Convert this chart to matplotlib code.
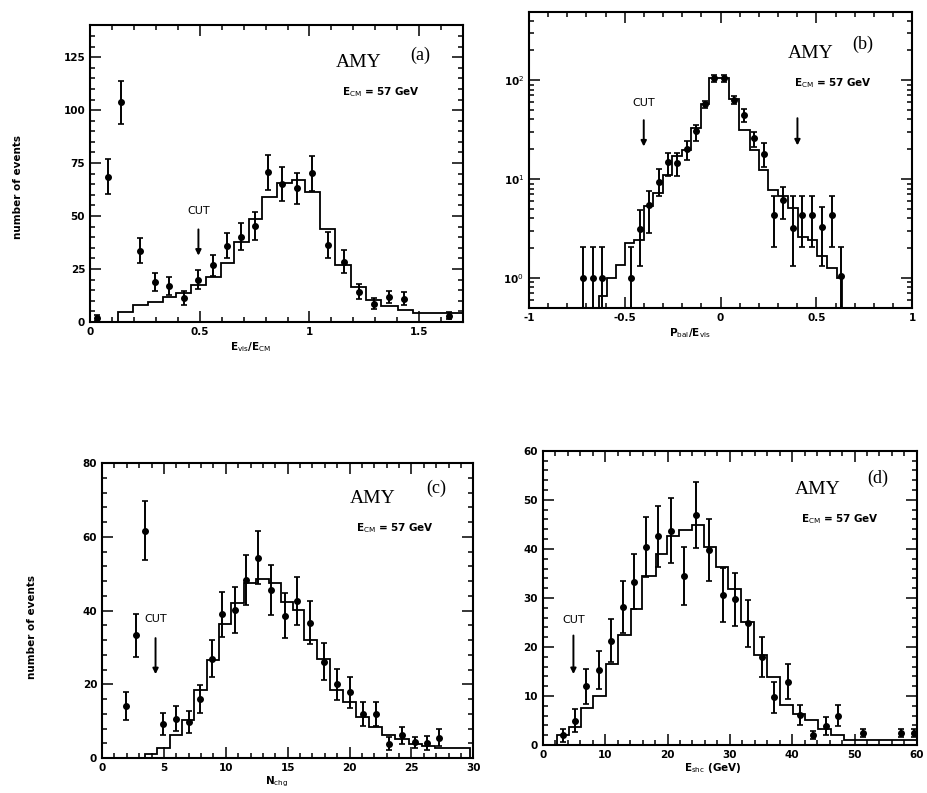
import matplotlib
matplotlib.use("Agg")
import matplotlib.pyplot as plt
from matplotlib.ticker import MultipleLocator, LogLocator, NullFormatter

# (a) E_vis / E_CM
a_x = [0.03, 0.08, 0.139, 0.226, 0.294, 0.362, 0.43, 0.494, 0.56, 0.626, 0.69, 0.754,
       0.811, 0.877, 0.945, 1.01, 1.085, 1.158, 1.226, 1.294, 1.364, 1.43, 1.636]
a_y = [2, 68.6, 103.6, 33.6, 18.9, 17, 11.3, 20, 26.8, 36, 40.2, 45.2,
       70.6, 65, 63, 70.1, 36.3, 28.4, 14.2, 8.7, 11.8, 11, 3]
a_err = [1.5, 8.2, 10.1, 5.9, 4.1, 4.4, 3.1, 4.5, 5, 5.9, 6.3, 6.5,
         8.4, 8.1, 7.5, 8.4, 6, 5.4, 3.5, 2.5, 3, 3, 1.5]
a_edges = [0.128, 0.196, 0.264, 0.332, 0.392, 0.46, 0.528, 0.596, 0.656, 0.724, 0.784,
           0.852, 0.92, 0.98, 1.048, 1.116, 1.19, 1.259, 1.327, 1.402, 1.47, 1.538, 1.7]
a_mc = [4.7, 8.2, 9.5, 11.8, 13.9, 17.3, 21.3, 28, 37.8, 48.5, 59, 65.5,
        67, 61.5, 44, 26.8, 16.5, 10.2, 7.4, 5.8, 4.2, 4]

# (b) P_bal / E_vis (log)
b_x = [-0.717, -0.664, -0.617, -0.466, -0.419, -0.371, -0.322, -0.273, -0.226, -0.177,
       -0.126, -0.081, -0.032, 0.019, 0.072, 0.121, 0.172, 0.224, 0.277, 0.326, 0.378,
       0.427, 0.478, 0.531, 0.58, 0.629]
b_y = [1, 1, 1, 1, 3.1, 5.4, 9.4, 14.7, 14.5, 20, 30.6, 57, 104, 104, 63, 44, 26, 18,
       4.35, 6.2, 3.2, 4.35, 4.35, 3.3, 4.35, 1.05]
b_lo = [0.001, 0.001, 0.001, 0.001, 1.31, 2.84, 6.66, 10.8, 10.8, 15.6, 24, 52, 96, 96,
        57, 38, 21, 13.3, 2.05, 3.9, 1.31, 2.05, 2.05, 1.31, 2.05, 0.001]
b_hi = [2.05, 2.05, 2.05, 2.05, 4.9, 7.5, 12.6, 18.5, 18.5, 24, 35, 62, 112, 112, 69, 51,
        30, 23, 6.7, 8.4, 6.7, 6.7, 6.7, 5.2, 6.7, 2.05]
b_edges = [-0.637, -0.594, -0.546, -0.497, -0.45, -0.401, -0.352, -0.3, -0.252, -0.2,
           -0.156, -0.103, -0.06, -0.007, 0.046, 0.098, 0.151, 0.198, 0.25, 0.3, 0.352,
           0.405, 0.457, 0.504, 0.553, 0.606, 0.632]
b_mc = [0.65, 1.0, 1.36, 2.25, 2.4, 5.3, 7.2, 11, 16.9, 19.7, 32.5, 58, 106, 106, 65, 31,
        19.7, 12.4, 7.8, 6.7, 5.1, 2.6, 2.4, 1.65, 1.26, 1.0]

# (c) N_chg
c_x = [1.95, 2.75, 3.47, 4.93, 5.95, 7.0, 7.95, 8.88, 9.73, 10.75, 11.6, 12.59, 13.68,
       14.8, 15.73, 16.8, 17.95, 19.0, 20.0, 21.1, 22.1, 23.2, 24.2, 25.25, 26.3, 27.2]
c_y = [14.1, 33.3, 61.7, 9.3, 10.7, 9.8, 16.1, 27, 39, 40.1, 48.3, 54.3, 45.6,
       38.6, 42.7, 36.7, 26.1, 20, 17.8, 11.9, 12, 3.9, 6.2, 4.3, 4.2, 5.5]
c_err = [3.8, 5.9, 8.0, 3.0, 3.4, 3.0, 3.8, 5.0, 6.1, 6.3, 6.8, 7.2, 6.7,
         6.1, 6.5, 5.8, 5.0, 4.2, 4.1, 3.2, 3.3, 1.7, 2.3, 1.5, 1.9, 2.3]
c_edges = [3.5, 4.45, 5.45, 6.45, 7.45, 8.45, 9.45, 10.45, 11.45, 12.45, 13.5, 14.5, 15.4,
           16.3, 17.35, 18.4, 19.45, 20.5, 21.6, 22.65, 23.7, 24.8, 25.85, 26.9, 29.7]
c_mc = [1.2, 2.7, 6.2, 10.2, 18.4, 26.5, 36.5, 42.1, 47.4, 48.5, 47.4, 42.4, 40.1,
        32, 27, 18.4, 15.2, 11.1, 8.4, 6.2, 5.3, 3.9, 3.4, 2.8]

# (d) E_shc
d_x = [3.2, 5.16, 6.9, 9.0, 10.9, 12.8, 14.6, 16.5, 18.5, 20.5, 22.6, 24.5, 26.6, 28.9,
       30.85, 32.9, 35.1, 37.1, 39.3, 41.2, 43.4, 45.4, 47.3, 51.3, 57.4, 59.5]
d_y = [2.0, 5.0, 12.0, 15.3, 21.3, 28.2, 33.3, 40.4, 42.6, 43.7, 34.4, 46.9, 39.7, 30.6,
       29.7, 24.8, 18.0, 9.7, 12.9, 6.1, 2.0, 3.9, 6.0, 2.4, 2.4, 2.4]
d_err = [1.3, 2.3, 3.6, 3.8, 4.3, 5.3, 5.6, 6.2, 6.2, 6.6, 5.9, 6.8, 6.3, 5.5,
         5.4, 4.8, 4.1, 3.1, 3.6, 2.1, 0.8, 1.8, 2.2, 0.8, 0.8, 0.8]
d_edges = [2.23, 4.26, 6.12, 8.09, 10.1, 12.1, 14.1, 15.96, 18.1, 19.95, 21.8, 23.9, 25.8,
           27.7, 29.7, 31.8, 33.8, 35.9, 38.0, 40.05, 42.0, 44.1, 46.2, 48.3, 50.3, 60]
d_mc = [2.0, 3.7, 7.6, 9.9, 16.5, 22.4, 27.7, 34.5, 39, 42.6, 43.8, 44.8, 40.4,
        36.3, 31.9, 25.1, 18.3, 13.8, 8.2, 6.3, 5.1, 3.2, 2.0, 1.0, 1.0]

fig = plt.figure(figsize=(9.28, 7.93), dpi=100)
axa = fig.add_axes([0.097, 0.594, 0.402, 0.374])
axb = fig.add_axes([0.570, 0.612, 0.413, 0.373])
axc = fig.add_axes([0.110, 0.044, 0.400, 0.372])
axd = fig.add_axes([0.585, 0.0605, 0.403, 0.371])

LAB = 7.5


def style(ax):
    for s in ax.spines.values():
        s.set_linewidth(1.5)
    ax.tick_params(which="both", direction="in", top=True, right=True,
                   labelsize=LAB, width=1.1)
    ax.tick_params(which="major", length=8)
    ax.tick_params(which="minor", length=3.5)
    for lab in ax.get_xticklabels() + ax.get_yticklabels():
        lab.set_fontweight("bold")


def labels(ax, tag, cx, cy, tx, ty):
    ax.text(cx, cy, "AMY", transform=ax.transAxes, ha="center", va="center",
            family="Liberation Serif", fontsize=14)
    ax.text(tx, ty, "(" + tag + ")", transform=ax.transAxes, ha="center", va="center",
            family="Liberation Serif", fontsize=13)
    ax.text(cx + 0.06, cy - 0.1, r"E$_{\rm CM}$ = 57 GeV", transform=ax.transAxes,
            ha="center", va="center", fontsize=LAB, fontweight="bold")


def cut(ax, x, tail, tip, ytext):
    ax.annotate("", xy=(x, tip), xytext=(x, tail),
                arrowprops=dict(arrowstyle="-|>", lw=1.4, color="black", mutation_scale=8))
    if ytext is not None:
        ax.text(x, ytext, "CUT", ha="center", va="bottom", fontsize=8)


eb = dict(fmt="o", ms=4, color="black", ecolor="black", elinewidth=1.4,
          capsize=2.2, capthick=1.2)

# (a)
axa.stairs(a_mc, a_edges, baseline=0, color="black", lw=1.3)
axa.errorbar(a_x, a_y, yerr=a_err, **eb)
axa.set_xlim(0, 1.7)
axa.set_ylim(0, 140)
axa.xaxis.set_minor_locator(MultipleLocator(0.1))
axa.yaxis.set_major_locator(MultipleLocator(25))
axa.yaxis.set_minor_locator(MultipleLocator(5))
axa.set_xticks([0, 0.5, 1, 1.5], ["0", "0.5", "1", "1.5"])
style(axa)
labels(axa, "a", 0.72, 0.875, 0.885, 0.9)
cut(axa, 0.494, 45, 30, 50)
axa.text(0.43, -0.085, r"E$_{\rm vis}$/E$_{\rm CM}$", transform=axa.transAxes,
         ha="center", va="center", fontsize=LAB, fontweight="bold")
axa.text(-0.193, 0.455, "number of events", transform=axa.transAxes, rotation=90,
         ha="center", va="center", fontsize=LAB, fontweight="bold")

# (b)
axb.set_yscale("log")
axb.stairs(b_mc, b_edges, baseline=0.05, color="black", lw=1.3)
b_yerr = [[y - lo for y, lo in zip(b_y, b_lo)], [hi - y for y, hi in zip(b_y, b_hi)]]
axb.errorbar(b_x, b_y, yerr=b_yerr, **eb)
axb.set_xlim(-1, 1)
axb.set_ylim(0.5, 490)
axb.xaxis.set_minor_locator(MultipleLocator(0.1))
axb.set_xticks([-1, -0.5, 0, 0.5, 1], ["-1", "-0.5", "0", "0.5", "1"])
axb.set_yticks([1, 10, 100], [r"10$^0$", r"10$^1$", r"10$^2$"])
axb.yaxis.set_minor_locator(LogLocator(base=10, subs=range(2, 10)))
axb.yaxis.set_minor_formatter(NullFormatter())
style(axb)
labels(axb, "b", 0.734, 0.86, 0.872, 0.89)
cut(axb, -0.401, 42, 20, 52)
cut(axb, 0.401, 44, 20.5, None)
axb.text(0.42, -0.085, r"P$_{\rm bal}$/E$_{\rm vis}$", transform=axb.transAxes,
         ha="center", va="center", fontsize=LAB, fontweight="bold")

# (c)
axc.stairs(c_mc, c_edges, baseline=0, color="black", lw=1.3)
axc.errorbar(c_x, c_y, yerr=c_err, **eb)
axc.set_xlim(0, 30)
axc.set_ylim(0, 80)
axc.xaxis.set_major_locator(MultipleLocator(5))
axc.xaxis.set_minor_locator(MultipleLocator(1))
axc.yaxis.set_major_locator(MultipleLocator(20))
axc.yaxis.set_minor_locator(MultipleLocator(4))
style(axc)
labels(axc, "c", 0.73, 0.88, 0.9, 0.915)
cut(axc, 4.32, 33.3, 22, 36.5)
axc.text(0.47, -0.082, r"N$_{\rm chg}$", transform=axc.transAxes,
         ha="center", va="center", fontsize=LAB, fontweight="bold")
axc.text(-0.189, 0.444, "number of events", transform=axc.transAxes, rotation=90,
         ha="center", va="center", fontsize=LAB, fontweight="bold")

# (d)
axd.stairs(d_mc, d_edges, baseline=0, color="black", lw=1.3)
axd.errorbar(d_x, d_y, yerr=d_err, **eb)
axd.set_xlim(0, 60)
axd.set_ylim(0, 60)
axd.xaxis.set_major_locator(MultipleLocator(10))
axd.xaxis.set_minor_locator(MultipleLocator(2))
axd.yaxis.set_major_locator(MultipleLocator(10))
axd.yaxis.set_minor_locator(MultipleLocator(2))
style(axd)
labels(axd, "d", 0.735, 0.867, 0.896, 0.905)
cut(axd, 4.9, 22.9, 13.9, 24.5)
axd.text(0.455, -0.078, r"E$_{\rm shc}$ (GeV)", transform=axd.transAxes,
         ha="center", va="center", fontsize=LAB, fontweight="bold")

fig.savefig("out.png", dpi=100)
